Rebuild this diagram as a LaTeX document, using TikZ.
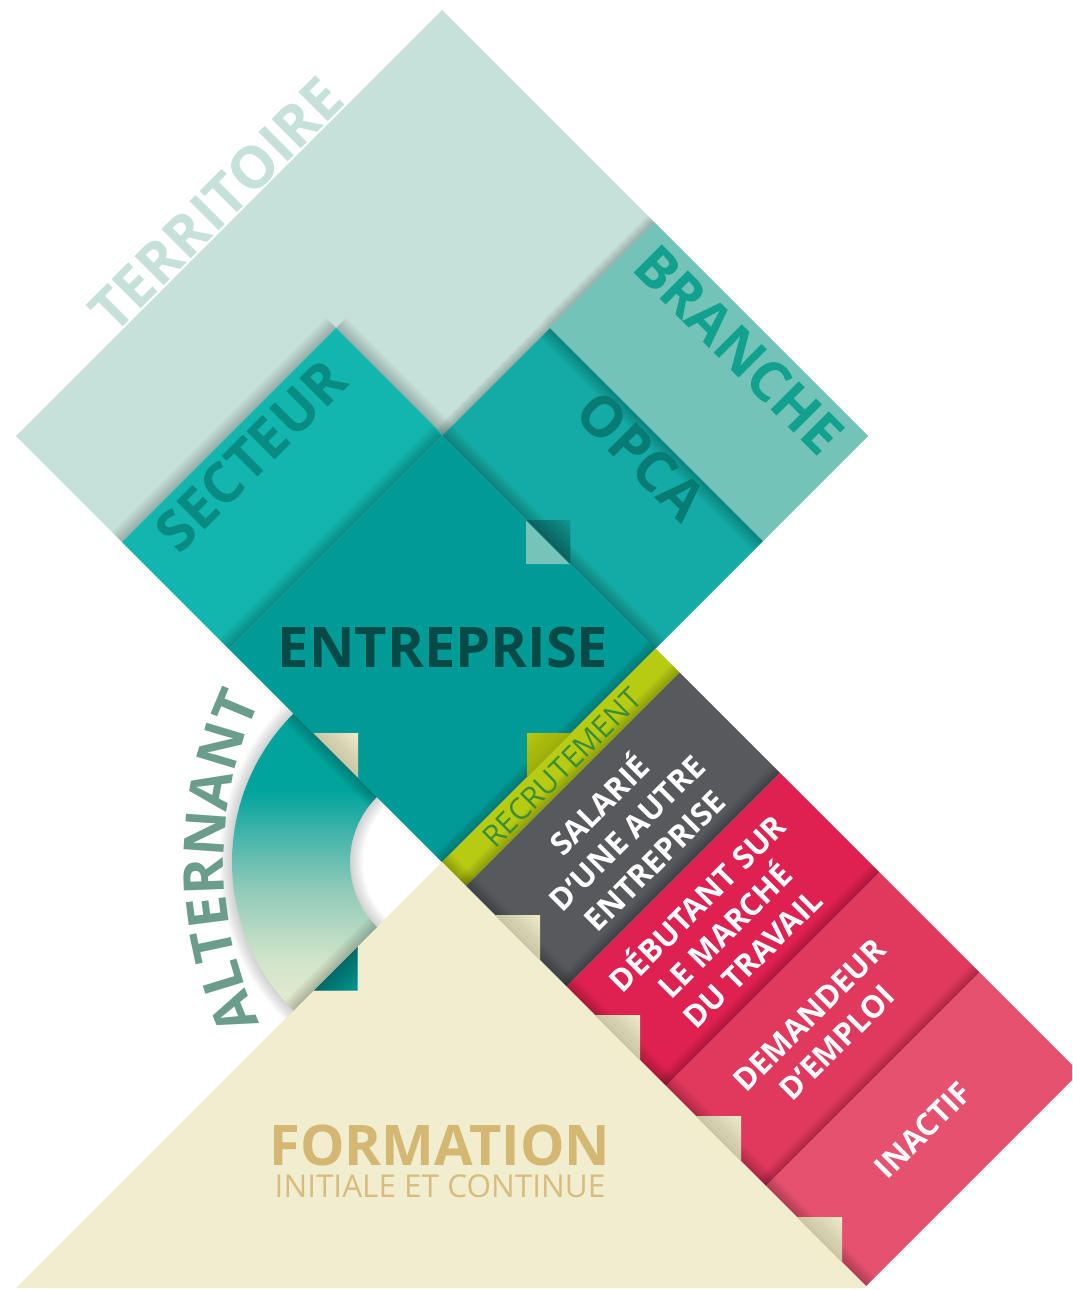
\documentclass[tikz,border=0pt]{standalone}
\usepackage{fontspec}
\setmainfont{Open Sans}
\usetikzlibrary{decorations.text}

\definecolor{mint}{HTML}{C6E1DA}
\definecolor{branchec}{HTML}{73C3B8}
\definecolor{branchet}{HTML}{12A08F}
\definecolor{opcac}{HTML}{14AAA5}
\definecolor{opcat}{HTML}{087C74}
\definecolor{secteurc}{HTML}{12B6AE}
\definecolor{secteurt}{HTML}{088B82}
\definecolor{entc}{HTML}{009B97}
\definecolor{entt}{HTML}{054A47}
\definecolor{limec}{HTML}{B7CB12}
\definecolor{recrut}{HTML}{3B8C3B}
\definecolor{greyc}{HTML}{58595D}
\definecolor{crimc}{HTML}{DE2150}
\definecolor{demc}{HTML}{E1385E}
\definecolor{inacc}{HTML}{E5516F}
\definecolor{creamc}{HTML}{F1EECF}
\definecolor{formt}{HTML}{D4B772}
\definecolor{formsub}{HTML}{D7BC7E}
\definecolor{altt}{HTML}{6A9D8B}
\definecolor{tealarc}{HTML}{00A49D}
\definecolor{arcmidA}{HTML}{D3E5CA}
\definecolor{arcmidB}{HTML}{93CBBA}
\definecolor{arcmidC}{HTML}{40B4AA}
\definecolor{notchlt}{HTML}{76C4B9}
\definecolor{notchdk}{HTML}{129E99}
\definecolor{tabshade}{HTML}{6E6638}

% vertical blend of the alternant arc: cream at the bottom, teal at the top
\pgfdeclareverticalshading{arcshade}{100bp}{color(0bp)=(creamc); color(20bp)=(creamc);
  color(33bp)=(arcmidA); color(45bp)=(arcmidB); color(55bp)=(arcmidC);
  color(62bp)=(tealarc); color(100bp)=(tealarc)}

% soft shadow next to an edge a = #1 (width #2, signed), between b = #3 and b = #4
\newcommand\edgeA[4]{\foreach \k in {1,...,8}{\fill[black,opacity=0.026] (#1,#3) rectangle ({#1+(#2)*\k/8},#4);}}
% soft shadow next to an edge b = #1 (width #2, signed), between a = #3 and a = #4
\newcommand\edgeB[4]{\foreach \k in {1,...,8}{\fill[black,opacity=0.026] (#3,#1) rectangle (#4,{#1+(#2)*\k/8});}}
% folded corner lying on the edge b = -420, starting at a = #1, colour #2
\newcommand\foldtab[2]{%
  \begin{scope}
    \clip (#1,-420) -- ({#1+45},-375) -- ({#1+90},-420) -- cycle;
    \fill[#2] ({#1-2},-422) rectangle ({#1+92},-370);
    \foreach \k in {1,...,8}{\fill[tabshade,opacity=0.035] ({#1-2},-422) rectangle ({#1+92},{-420+5.5*\k});}
  \end{scope}}

\begin{document}
\begin{tikzpicture}[x=1pt,y=-1pt,
  ab/.style={cm={0.5,-0.5,-0.5,-0.5,(0,0)}},
  sectorpath/.style 2 args={insert path={([shift={(225:#2)}]442,862)
      arc[start angle=225,end angle=135,radius=#2] -- ([shift={(135:#1)}]442,862)
      arc[start angle=135,end angle=225,radius=#1] -- cycle}},
  bigtxt/.style={font=\bfseries\fontsize{56}{56}\selectfont, inner sep=0pt, anchor=base},
  striptxt/.style={rotate=45, align=center, text=white, inner sep=0pt,
      font=\bfseries\fontsize{31}{39}\selectfont}]

\useasboundingbox (0,0) rectangle (1072,1290);
\begin{scope}
\clip (0,0) rectangle (1072,1290);

% ---- stacked panels, drawn in diagonal (a,b) coordinates ----
\begin{scope}[ab]
  \fill[mint] (452,-420) rectangle (1304,432);
  \edgeA{877}{-14}{222}{432}
  \edgeA{878}{-14}{6}{222}
  \fill[opcac] (878,6) rectangle (1304,222);
  \edgeB{222}{-20}{878}{1304}
  \fill[branchec] (877,222) rectangle (1304,432);
  \edgeA{664}{-20}{-420}{8}
  \edgeB{8}{20}{664}{878}
  \fill[secteurc] (664,-420) rectangle (878,8);
  \edgeA{878}{-20}{-420}{6}
  \edgeB{6}{20}{878}{1304}
  \fill[entc] (878,-420) rectangle (1304,6);
  % small notch on the entreprise / opca border
  \fill[notchlt] (1046,6) -- (1090,-38) -- (1134,6) -- cycle;
  \begin{scope}
    \clip (1046,6) -- (1090,50) -- (1134,6) -- cycle;
    \fill[notchdk] (1040,4) rectangle (1140,54);
    \foreach \k in {1,...,8}{\fill[black,opacity=0.05] (1040,4) rectangle (1140,{6+5.5*\k});}
  \end{scope}
  % status strips
  \edgeA{1304}{-16}{-420}{7}
  \fill[limec] (1304,-420) rectangle (1352,7);
  \edgeA{1352}{-16}{-420}{7}
  \fill[greyc] (1352,-420) rectangle (1553,7);
  \edgeA{1553}{-16}{-420}{7}
  \fill[crimc] (1553,-420) rectangle (1752,7);
  \edgeA{1752}{-16}{-420}{7}
  \fill[demc] (1752,-420) rectangle (1952,7);
  \edgeA{1952}{-16}{-420}{7}
  \fill[inacc] (1952,-420) rectangle (2152,7);
  \edgeB{-420}{18}{1304}{2152}
  % lime fold over the entreprise panel
  \begin{scope}
    \clip (1304,-250) -- (1260,-206) -- (1304,-162) -- cycle;
    \fill[limec] (1256,-254) rectangle (1308,-158);
    \foreach \k in {1,...,8}{\fill[black,opacity=0.015] (1308,-254) rectangle ({1304-5.5*\k},-158);}
  \end{scope}
\end{scope}

% ---- formation triangle ----
\fill[creamc] (442,862) -- (868,1288) -- (16,1288) -- cycle;

\begin{scope}[ab]
  \foldtab{1410}{creamc}
  \foldtab{1610}{creamc}
  \foldtab{1812}{creamc}
  \foldtab{2014}{creamc}
  \foldtab{1046}{creamc}
  % teal fold over the formation triangle
  \begin{scope}
    \clip (1304,-677) -- (1348,-633) -- (1304,-589) -- cycle;
    \fill[entc] (1300,-680) rectangle (1352,-586);
    \foreach \k in {1,...,8}{\fill[black,opacity=0.04] (1300,-680) rectangle ({1304+5.5*\k},-586);}
  \end{scope}
\end{scope}

% ---- alternant arc ----
\foreach \k in {1,...,8}{%
  \pgfmathsetmacro\ri{92-1.6*\k}\pgfmathsetmacro\ro{210+1.6*\k}%
  \fill[black,opacity=0.022,sectorpath={\ri}{\ro}];}
\shade[shading=arcshade,sectorpath={92}{210}];
\begin{scope}
  \clip[sectorpath={92}{210}];
  \begin{scope}[ab]
    \edgeB{-420}{-18}{1000}{1180}
    \edgeA{1304}{-18}{-720}{-545}
  \end{scope}
\end{scope}
\end{scope}

% ---- labels ----
\node[bigtxt, rotate=45, text=mint, font=\bfseries\fontsize{58}{58}\selectfont] (territoire) at (231,219) {TERRITOIRE};
\node[bigtxt, rotate=45, text=secteurt] (secteur) at (265,470) {SECTEUR};
\node[bigtxt, rotate=-45, text=branchet] (branche) at (725,364) {BRANCHE};
\node[bigtxt, rotate=-45, text=opcat] (opca) at (627,470) {OPCA};
\node[bigtxt, text=entt] (entreprise) at (443,667) {ENTREPRISE};
\node[bigtxt, text=formt] (formation) at (440,1165) {FORMATION};
\node[anchor=base, inner sep=0pt, text=formsub, font=\fontsize{31.5}{31.5}\selectfont] (initiale) at (440,1197) {INITIALE ET CONTINUE};
\node[anchor=base, inner sep=0pt, rotate=45, text=recrut, font=\fontsize{30}{30}\selectfont] (recrutement) at (570,775) {RECRUTEMENT};
\node[striptxt] (salarie) at (625,831) {SALARIÉ\\D’UNE AUTRE\\ENTREPRISE};
\node[striptxt] (debutant) at (723,929) {DÉBUTANT SUR\\LE MARCHÉ\\DU TRAVAIL};
\node[striptxt] (demandeur) at (823,1029) {DEMANDEUR\\D’EMPLOI};
\node[striptxt] (inactif) at (923,1130) {INACTIF};
\path[decorate, decoration={text along path, text color=altt, text align=center,
    text={|\bfseries\fontsize{56}{56}\selectfont|ALTERNANT}}]
  ([shift={(150:380)}]604,862) arc[start angle=150, end angle=210, radius=380];
\end{tikzpicture}
\end{document}
